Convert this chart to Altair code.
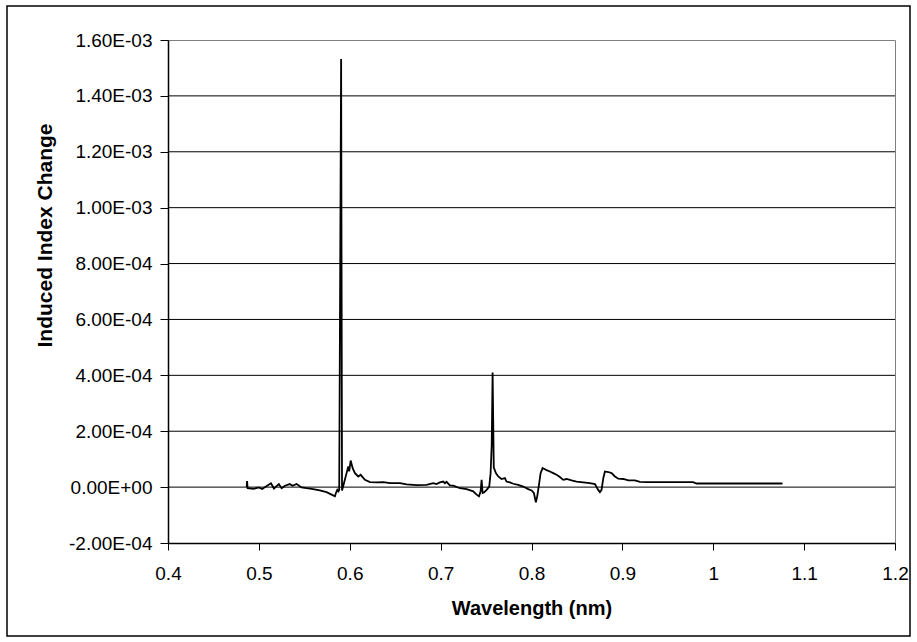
import altair as alt
import pandas as pd

# ---- data ----
wavelength = [
    0.4866, 0.4870, 0.4876, 0.4943, 0.5000, 0.5036, 0.5133, 0.5166, 0.5220, 0.5250,
    0.5287, 0.5340, 0.5370, 0.5415, 0.5470, 0.5525, 0.5598, 0.5670, 0.5745, 0.5800,
    0.5837, 0.5848, 0.5863, 0.5874, 0.5884, 0.5898, 0.5905, 0.5915, 0.5929, 0.5965,
    0.5984, 0.5994, 0.6010, 0.6032, 0.6057, 0.6094, 0.6120, 0.6167, 0.6222, 0.6296,
    0.6369, 0.6442, 0.6552, 0.6626, 0.6736, 0.6845, 0.6919, 0.6955, 0.6992, 0.7029,
    0.7047, 0.7065, 0.7102, 0.7139, 0.7213, 0.7286, 0.7359, 0.7396, 0.7422, 0.7440,
    0.7451, 0.7462, 0.7477, 0.7506, 0.7535, 0.7550, 0.7562, 0.7572, 0.7585, 0.7608,
    0.7634, 0.7670, 0.7707, 0.7725, 0.7762, 0.7799, 0.7854, 0.7909, 0.7964, 0.8001,
    0.8026, 0.8048, 0.8063, 0.8085, 0.8100, 0.8122, 0.8147, 0.8173, 0.8202, 0.8239,
    0.8276, 0.8312, 0.8349, 0.8386, 0.8441, 0.8496, 0.8569, 0.8642, 0.8698, 0.8734,
    0.8753, 0.8771, 0.8790, 0.8808, 0.8845, 0.8881, 0.8918, 0.8955, 0.9010, 0.9065,
    0.9138, 0.9193, 0.9267, 0.9500, 0.9779, 0.9816, 1.0200, 1.0500, 1.0762,
]
index_change = [
    0.0e+00, 2.2e-05, -4e-06, -6e-06, -1e-06, -7e-06, 1.4e-05, -5e-06, 1.1e-05, -4e-06,
    5e-06, 1.1e-05, 5e-06, 1.1e-05, -1e-06, -4e-06, -7e-06, -1.2e-05, -1.8e-05, -2.7e-05,
    -3.3e-05, -2.1e-05, -1.0e-05, -1.5e-05, -1.0e-05, 1.0e-03, 1.532e-03, -1.2e-05, 5e-06, 5.0e-05,
    7.4e-05, 5.6e-05, 9.5e-05, 6.8e-05, 5.0e-05, 3.8e-05, 4.4e-05, 2.6e-05, 1.8e-05, 1.7e-05,
    1.8e-05, 1.4e-05, 1.4e-05, 9.5e-06, 7e-06, 8e-06, 1.4e-05, 1.1e-05, 1.7e-05, 2.0e-05,
    1.4e-05, 1.9e-05, 6e-06, 5e-06, -4e-06, -7e-06, -1.5e-05, -2.7e-05, -3.3e-05, -1.5e-05,
    2.6e-05, -2.1e-05, -1.9e-05, -1.0e-05, 2e-06, 5.0e-05, 1.5e-04, 4.1e-04, 7.0e-05, 5.0e-05,
    3.8e-05, 2.9e-05, 3.2e-05, 2.0e-05, 1.7e-05, 1.2e-05, 8e-06, 2e-06, -7e-06, -1.2e-05,
    -2.1e-05, -5.4e-05, -3.3e-05, 1.4e-05, 5.0e-05, 6.8e-05, 6.4e-05, 6.0e-05, 5.6e-05, 5.0e-05,
    4.4e-05, 3.6e-05, 2.6e-05, 2.9e-05, 2.4e-05, 2.0e-05, 1.7e-05, 1.4e-05, 1.1e-05, -1.0e-05,
    -1.8e-05, -1.0e-05, 3.2e-05, 5.6e-05, 5.4e-05, 5.0e-05, 3.8e-05, 3.0e-05, 2.9e-05, 2.4e-05,
    2.4e-05, 1.9e-05, 1.8e-05, 1.8e-05, 1.8e-05, 1.3e-05, 1.3e-05, 1.3e-05, 1.3e-05,
]

x_ticks = [0.4, 0.5, 0.6, 0.7, 0.8, 0.9, 1.0, 1.1, 1.2]
y_ticks = [-0.0002, 0.0, 0.0002, 0.0004, 0.0006, 0.0008, 0.0010, 0.0012, 0.0014, 0.0016]
y_tick_labels = ["-2.00E-04", "0.00E+00", "2.00E-04", "4.00E-04", "6.00E-04",
                 "8.00E-04", "1.00E-03", "1.20E-03", "1.40E-03", "1.60E-03"]

x_title = "Wavelength (nm)"
y_title = "Induced Index Change"

# ---- build ----
FONT = "Liberation Sans"
W, H = 727, 503
PAD = {"left": 168, "top": 40, "right": 22, "bottom": 99}

line_df = pd.DataFrame({"wl": wavelength, "dn": index_change})
grid_df = pd.DataFrame({"dn": y_ticks[1:-1]})
frame_df = pd.DataFrame({"a": [0]})

label_expr = "[" + ",".join("'" + s + "'" for s in y_tick_labels) + "][round((datum.value + 0.0002) / 0.0002)]"

x_scale = alt.Scale(domain=[x_ticks[0], x_ticks[-1]], nice=False, zero=False)
y_scale = alt.Scale(domain=[y_ticks[0], y_ticks[-1]], nice=False, zero=False)

x_axis = alt.Axis(
    values=x_ticks,
    format="~g",
    title=x_title,
    grid=False,
    domainColor="black",
    domainWidth=1.5,
    tickColor="black",
    tickSize=7,
    labelFont=FONT,
    labelFontSize=19,
    labelColor="black",
    labelBaseline="middle",
    labelPadding=23,
    labelFlush=False,
    titleFont=FONT,
    titleFontSize=20,
    titleFontWeight="bold",
    titleColor="black",
    titleX=W / 2,
    titleY=65,
    titleBaseline="middle",
    titleAlign="center",
)

y_axis = alt.Axis(
    values=y_ticks,
    labelExpr=label_expr,
    title=y_title,
    grid=False,
    domainColor="black",
    domainWidth=1.5,
    tickColor="black",
    tickSize=8,
    labelFont=FONT,
    labelFontSize=19,
    labelColor="black",
    labelPadding=8,
    labelFlush=False,
    titleFont=FONT,
    titleFontSize=21,
    titleFontWeight="bold",
    titleColor="black",
    titleX=-123,
    titleY=195,
    titleBaseline="middle",
    titleAlign="center",
    titleAngle=270,
)

grid = alt.Chart(grid_df).mark_rule(color="black", strokeWidth=1).encode(
    y=alt.Y("dn:Q", scale=y_scale, axis=y_axis)
)

line = alt.Chart(line_df).mark_line(color="black", strokeWidth=1.8).encode(
    x=alt.X("wl:Q", scale=x_scale, axis=x_axis),
    y=alt.Y("dn:Q", scale=y_scale, axis=y_axis),
)

frame = alt.Chart(frame_df).mark_rect(
    fill=None, filled=False, stroke="black", strokeWidth=1.5
).encode(
    x=alt.value(-161), x2=alt.value(742), y=alt.value(-34), y2=alt.value(596)
)

chart = (
    alt.layer(grid, line, frame)
    .properties(width=W, height=H, padding=PAD, autosize=alt.AutoSizeParams(type="none"), background="white")
    .configure_view(stroke="#808080", strokeWidth=1)
)

chart.save("out.html", embed_options={"renderer": "svg", "actions": False})
